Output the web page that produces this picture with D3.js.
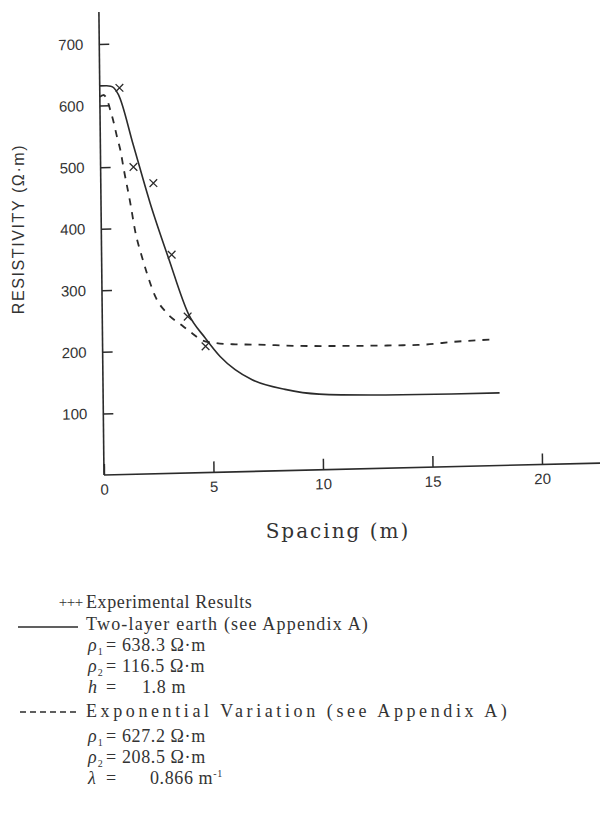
<!DOCTYPE html>
<html>
<head>
<meta charset="utf-8">
<script src="https://cdn.jsdelivr.net/npm/d3@7"></script>
<style>
	body { margin: 0; background: #fff; }
	svg { display: block; }
</style>
</head>
<body>
<div id="chart"></div>
<script>
// values
const xTicks = [0, 5, 10, 15, 20];
const yTicks = [100, 200, 300, 400, 500, 600, 700];

const expSpacing = [0.9, 1.5, 2.4, 3.2, 3.9, 4.7];
const expResistivity = [628, 499, 472, 355, 254, 205];

const twoLayerSpacing = [0, 0.3, 0.5, 0.65, 0.85, 1.5, 2.24, 3.06, 3.95, 4.68, 5.36, 6.04, 6.81, 8.31, 9.86, 12.9, 15.9, 18.1];
const twoLayerResistivity = [632, 632, 631, 628, 617, 535, 440, 349, 257, 219, 188, 166, 149, 132, 123, 119, 118, 118];

const expoSpacing = [0, 0.15, 0.3, 0.45, 0.62, 0.76, 0.91, 1.05, 1.34, 1.55, 1.84, 2.06, 2.43, 2.96, 3.63, 4.08, 4.54, 5.15, 6.06, 6.83, 9, 11.36, 14.4, 16.23, 17.83];
const expoResistivity = [614, 617, 612, 595, 572, 549, 527, 497, 440, 394, 353, 326, 288, 260, 240, 227, 215, 210, 207, 206, 202, 200, 199, 203, 205];

const size = { w: 600, h: 838 };
const origin = { x: 104, y: 475 };
const ink = "#2b2b2b";

const svg = d3
	.select("#chart")
	.append("svg")
	.attr("width", size.w)
	.attr("height", size.h);

const x = d3.scaleLinear().domain([0, 20]).range([0, 438]);
const y = d3.scaleLinear().domain([0, 700]).range([0, -431]);

// the scan is slightly skewed, so the plot area is too
const plotG = svg
	.append("g")
	.attr("transform", `translate(${origin.x},${origin.y}) matrix(1,-0.024,0.011,1,0,0)`);

// axes lines
plotG.append("line")
	.attr("x1", 0).attr("y1", 0)
	.attr("x2", 0).attr("y2", y(752))
	.attr("stroke", ink).attr("stroke-width", 1.6);
plotG.append("line")
	.attr("x1", 0).attr("y1", 0)
	.attr("x2", x(23.6)).attr("y2", 0)
	.attr("stroke", ink).attr("stroke-width", 1.6);

const yAxis = plotG.append("g")
	.call(d3.axisLeft(y).tickValues(yTicks).tickSizeInner(-10).tickSizeOuter(0).tickPadding(16));
const xAxis = plotG.append("g")
	.call(d3.axisBottom(x).tickValues(xTicks).tickSizeInner(-11).tickSizeOuter(0).tickPadding(9));

[yAxis, xAxis].forEach((a) => {
	a.select(".domain").remove();
	a.selectAll("line").attr("stroke", ink).attr("stroke-width", 1.5);
	a.selectAll("text")
		.attr("fill", "#333")
		.style("font-family", "'Liberation Sans', Arial, sans-serif")
		.style("font-size", "15px");
});

// curves
const line = d3
	.line()
	.x((d) => x(d[0]))
	.y((d) => y(d[1]))
	.curve(d3.curveMonotoneX);

const twoLayer = twoLayerSpacing.map((s, i) => [s, twoLayerResistivity[i]]);
const expo = expoSpacing.map((s, i) => [s, expoResistivity[i]]);
const experiments = expSpacing.map((s, i) => [s, expResistivity[i]]);

plotG.append("path")
	.datum(twoLayer)
	.attr("d", line)
	.attr("fill", "none")
	.attr("stroke", ink)
	.attr("stroke-width", 1.6);

plotG.append("path")
	.datum(expo)
	.attr("d", line)
	.attr("fill", "none")
	.attr("stroke", ink)
	.attr("stroke-width", 1.8)
	.attr("stroke-dasharray", "7,7");

plotG.selectAll(".exp")
	.data(experiments)
	.join("path")
	.classed("exp", true)
	.attr("transform", (d) => `translate(${x(d[0])},${y(d[1])})`)
	.attr("d", d3.symbol(d3.symbolTimes, 40))
	.attr("fill", "none")
	.attr("stroke", ink)
	.attr("stroke-width", 1.3);

// axis titles
svg.append("text")
	.attr("transform", "translate(24,229) rotate(-90)")
	.attr("text-anchor", "middle")
	.attr("fill", "#333")
	.style("font-family", "'Liberation Sans', Arial, sans-serif")
	.style("font-size", "16px")
	.style("letter-spacing", "1.6px")
	.text("RESISTIVITY (Ω·m)");

svg.append("text")
	.attr("x", 338)
	.attr("y", 538)
	.attr("text-anchor", "middle")
	.attr("fill", "#333")
	.style("font-family", "'DejaVu Serif', serif")
	.style("font-size", "20px")
	.style("letter-spacing", "2px")
	.text("Spacing (m)");

// legend
const legendFont = "'Liberation Serif', 'DejaVu Serif', serif";
const legendG = svg.append("g")
	.attr("fill", "#333")
	.style("font-family", legendFont)
	.style("font-size", "18px")
	.style("letter-spacing", "1px");

legendG.selectAll(".plus")
	.data([63, 71, 79])
	.join("text")
	.classed("plus", true)
	.attr("x", (d) => d)
	.attr("y", 607)
	.attr("text-anchor", "middle")
	.style("font-size", "15px")
	.style("letter-spacing", "0px")
	.text("+");
legendG.append("line")
	.attr("x1", 18).attr("x2", 78).attr("y1", 627).attr("y2", 627)
	.attr("stroke", ink).attr("stroke-width", 1.5);
legendG.append("line")
	.attr("x1", 20).attr("x2", 80).attr("y1", 712).attr("y2", 712)
	.attr("stroke", ink).attr("stroke-width", 1.5)
	.attr("stroke-dasharray", "6,4");

const legendLabels = [
	{ y: 608, text: "Experimental Results", ls: 0.6 },
	{ y: 630, text: "Two-layer earth (see Appendix A)", ls: 1.2 },
	{ y: 717, text: "Exponential Variation (see Appendix A)", ls: 3.6 },
];
legendG.selectAll(".lbl")
	.data(legendLabels)
	.join("text")
	.classed("lbl", true)
	.attr("x", 86)
	.attr("y", (d) => d.y)
	.style("letter-spacing", (d) => `${d.ls}px`)
	.text((d) => d.text);

const params = [
	{ y: 651, sym: "ρ", sub: "1", val: "638.3 Ω·m", vx: 122 },
	{ y: 672, sym: "ρ", sub: "2", val: "116.5 Ω·m", vx: 122 },
	{ y: 693, sym: "h", sub: "", val: "1.8 m", vx: 142 },
	{ y: 742, sym: "ρ", sub: "1", val: "627.2 Ω·m", vx: 122 },
	{ y: 763, sym: "ρ", sub: "2", val: "208.5 Ω·m", vx: 122 },
	{ y: 784, sym: "λ", sub: "", val: "0.866 m", vx: 150, sup: "-1" },
];
params.forEach((p) => {
	const t = legendG.append("text").attr("x", 88).attr("y", p.y);
	t.append("tspan").style("font-style", "italic").text(p.sym);
	if (p.sub) t.append("tspan").attr("dy", 4).style("font-size", "10px").text(p.sub);
	legendG.append("text").attr("x", 106).attr("y", p.y).text("=");
	const v = legendG.append("text").attr("x", p.vx).attr("y", p.y).style("letter-spacing", "0.6px").text(p.val);
	if (p.sup) v.append("tspan").attr("dy", -7).style("font-size", "10px").text(p.sup);
});
</script>
</body>
</html>
